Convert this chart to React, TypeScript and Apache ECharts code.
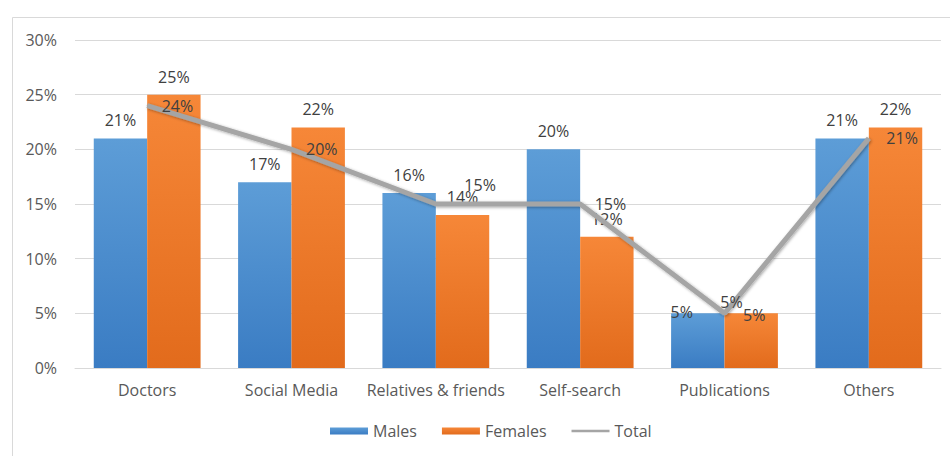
import React, { useEffect, useRef } from "react";
import * as echarts from "echarts";

const categories = ["Doctors", "Social Media", "Relatives & friends", "Self-search", "Publications", "Others"];
const males = [21, 17, 16, 20, 5, 21];
const females = [25, 22, 14, 12, 5, 22];
const total = [24, 20, 15, 15, 5, 21];
const yTicks = { min: 0, max: 30, interval: 5 };

const FONT = "'Open Sans', 'Noto Sans', sans-serif";
const TXT = "#595959";
const LBL = "#404040";
const FS = 16;

export default function App() {
  const ref = useRef<HTMLDivElement>(null);
  useEffect(() => {
    if (!ref.current) return;
    const chart = echarts.init(ref.current, undefined, { renderer: "svg" });

    const maleData = males.map((v, i) =>
      i === 4 ? { value: v, label: { offset: [-16, 17] } } : v
    );
    const femaleData = females.map((v, i) =>
      i === 4 ? { value: v, label: { offset: [3, 20] } } : v
    );
    const totalData = total.map((v, i) => {
      if (i === 2) return { value: v, label: { position: "right", distance: 14, offset: [14, -19] } };
      if (i === 4) return { value: v, label: { position: "top", distance: 3, offset: [7, 0] } };
      if (i === 5) return { value: v, label: { position: "right", distance: 17 } };
      return v;
    });

    const blueGrad = new echarts.graphic.LinearGradient(0, 0, 0, 1, [
      { offset: 0, color: "#5D9DD7" },
      { offset: 1, color: "#3A7CC3" },
    ]);
    const orangeGrad = new echarts.graphic.LinearGradient(0, 0, 0, 1, [
      { offset: 0, color: "#F68738" },
      { offset: 1, color: "#E26B1C" },
    ]);

    const labelBase = {
      show: true,
      formatter: "{c}%",
      color: LBL,
      fontSize: FS,
      fontFamily: FONT,
    };

    chart.setOption({
      animation: false,
      textStyle: { fontFamily: FONT },
      graphic: [
        {
          type: "rect",
          shape: { x: 12.5, y: 17.5, width: 1000, height: 1000 },
          style: { fill: "none", stroke: "#D9D9D9", lineWidth: 1 },
          silent: true,
          z: -10,
        },
      ],
      grid: { left: 75, right: 9, top: 40, bottom: 88, containLabel: false },
      legend: {
        bottom: 12,
        left: 325,
        itemWidth: 38,
        itemHeight: 7,
        itemGap: 25,
        textStyle: { color: TXT, fontSize: FS, fontFamily: FONT },
        data: [
          { name: "Males", icon: "rect" },
          { name: "Females", icon: "rect" },
          { name: "Total", icon: "path://M0,0H47V3H0Z" },
        ],
      },
      xAxis: {
        type: "category",
        data: categories,
        axisLine: { show: true, lineStyle: { color: "#D9D9D9", width: 1 } },
        axisTick: { show: false },
        axisLabel: { color: TXT, fontSize: FS, margin: 14, interval: 0, fontFamily: FONT },
      },
      yAxis: {
        type: "value",
        min: yTicks.min,
        max: yTicks.max,
        interval: yTicks.interval,
        axisLine: { show: false },
        axisTick: { show: false },
        splitLine: { lineStyle: { color: "#D9D9D9", width: 1 } },
        axisLabel: { color: TXT, fontSize: FS, margin: 18, formatter: "{value}%", fontFamily: FONT },
      },
      series: [
        {
          name: "Males",
          type: "bar",
          data: maleData,
          barGap: "0%",
          barCategoryGap: "26%",
          itemStyle: { color: blueGrad },
          label: { ...labelBase, position: "top", distance: 10 },
          z: 2,
        },
        {
          name: "Females",
          type: "bar",
          data: femaleData,
          barGap: "0%",
          barCategoryGap: "26%",
          itemStyle: { color: orangeGrad },
          label: { ...labelBase, position: "top", distance: 10 },
          z: 2,
        },
        {
          name: "Total",
          type: "line",
          data: totalData,
          symbol: "circle",
          symbolSize: 1,
          showSymbol: true,
          itemStyle: { color: "#A5A5A5" },
          lineStyle: {
            color: "#A5A5A5",
            width: 5,
            shadowColor: "rgba(0,0,0,0.35)",
            shadowBlur: 3,
            shadowOffsetX: 1,
            shadowOffsetY: 1,
          },
          label: { ...labelBase, position: "right", distance: 14 },
          z: 5,
        },
      ],
    });
    return () => chart.dispose();
  }, []);
  return (
    <div
      ref={ref}
      style={{ position: "fixed", left: 0, top: 0, width: 950, height: 456, background: "#fff" }}
    />
  );
}
